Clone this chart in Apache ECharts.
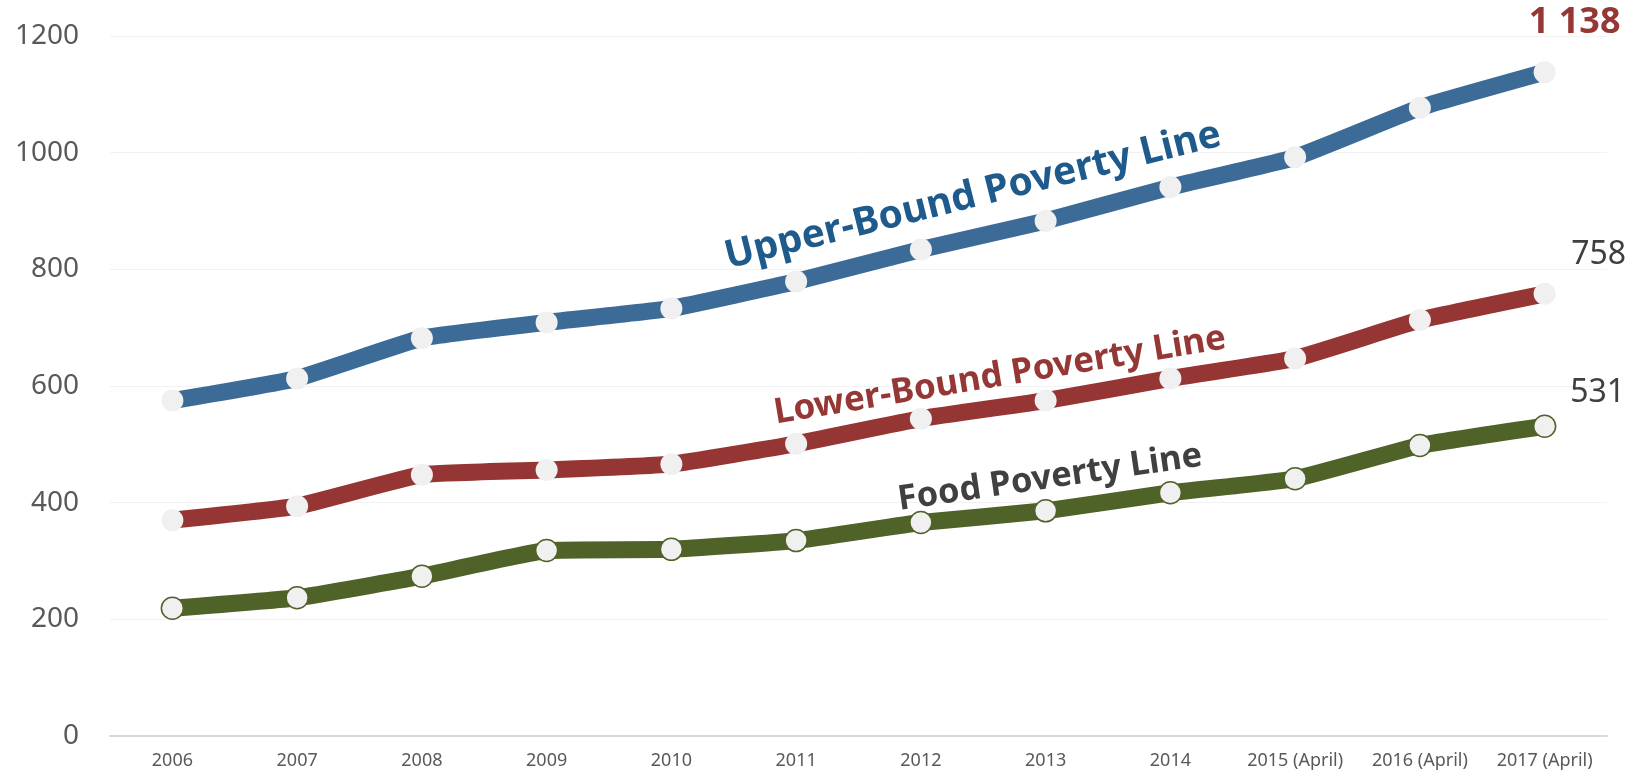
<!DOCTYPE html>
<html>
<head>
<meta charset="utf-8">
<script src="https://cdn.jsdelivr.net/npm/echarts@6/dist/echarts.min.js"></script>
<style>
  html, body { margin: 0; padding: 0; background: #fff; }
  #chart { width: 1639px; height: 777px; }
</style>
</head>
<body>
<div id="chart"></div>
<script>
// 数据
const years = ['2006', '2007', '2008', '2009', '2010', '2011', '2012', '2013', '2014', '2015 (April)', '2016 (April)', '2017 (April)']
const upperBound = [575, 613, 682, 709, 733, 779, 834, 883, 941, 992, 1077, 1138]
const lowerBound = [370, 394, 448, 456, 466, 501, 544, 575, 613, 647, 713, 758]
const foodLine = [219, 237, 274, 318, 320, 335, 366, 386, 417, 441, 498, 531]
const yTicks = [0, 200, 400, 600, 800, 1000, 1200]

const font = '"Noto Sans", "Open Sans", sans-serif'
const markerFill = '#f0f0f0'

// 最后一个点加数值标签
const withEndLabel = (values, labelStyle) => values.map((v, i) => {
  if (i !== values.length - 1) return v
  return { value: v, label: { show: true, position: 'inside', ...labelStyle } }
})

const fmt = (v) => String(v).replace(/\B(?=(\d{3})+(?!\d))/g, ' ')

const makeSeries = (name, values, color, endLabel, border) => ({
  name,
  type: 'line',
  data: withEndLabel(values, endLabel),
  smooth: 0.12,
  symbol: 'circle',
  symbolSize: 22,
  lineStyle: { color, width: 17 },
  itemStyle: {
    color: markerFill,
    borderColor: border ? color : markerFill,
    borderWidth: border ? 1.5 : 0
  },
  label: {
    formatter: (p) => fmt(p.value)
  },
  emphasis: { disabled: true }
})

const chart = echarts.init(document.getElementById('chart'))

chart.setOption({
  animation: false,
  grid: { left: 110, right: 32, top: 36, bottom: 41 },
  xAxis: {
    type: 'category',
    data: years,
    boundaryGap: true,
    axisLine: { lineStyle: { color: '#d9d9d9', width: 2 } },
    axisTick: { show: false },
    axisLabel: { color: '#595959', fontFamily: font, fontSize: 18, margin: 16, interval: 0 }
  },
  yAxis: {
    type: 'value',
    min: yTicks[0],
    max: yTicks[yTicks.length - 1],
    interval: 200,
    axisLine: { show: false },
    axisTick: { show: false },
    splitLine: { lineStyle: { color: '#f2f2f2', width: 1 } },
    axisLabel: { color: '#595959', fontFamily: font, fontSize: 28, margin: 31, formatter: (v) => String(v) }
  },
  series: [
    makeSeries('Food Poverty Line', foodLine, '#4f6228',
      { offset: [53, -33], color: '#404040', fontFamily: font, fontSize: 32 }, true),
    makeSeries('Lower-Bound Poverty Line', lowerBound, '#963634',
      { offset: [54, -39], color: '#404040', fontFamily: font, fontSize: 32 }, false),
    makeSeries('Upper-Bound Poverty Line', upperBound, '#3d6b98',
      { offset: [30, -49], color: '#953735', fontFamily: font, fontSize: 36, fontWeight: 'bold' }, false)
  ],
  // 线上的斜体名称
  graphic: [
    {
      type: 'text', x: 973, y: 196, z: 100, rotation: 14 * Math.PI / 180,
      style: { text: 'Upper-Bound Poverty Line', font: 'bold 39px ' + font, fill: '#1f5a8c', align: 'center', verticalAlign: 'middle' }
    },
    {
      type: 'text', x: 1000, y: 376, z: 100, rotation: 9.5 * Math.PI / 180,
      style: { text: 'Lower-Bound Poverty Line', font: 'bold 35px ' + font, fill: '#953735', align: 'center', verticalAlign: 'middle' }
    },
    {
      type: 'text', x: 1050, y: 478, z: 100, rotation: 8.3 * Math.PI / 180,
      style: { text: 'Food Poverty Line', font: 'bold 34.5px ' + font, fill: '#404040', align: 'center', verticalAlign: 'middle' }
    }
  ]
})
</script>
</body>
</html>
